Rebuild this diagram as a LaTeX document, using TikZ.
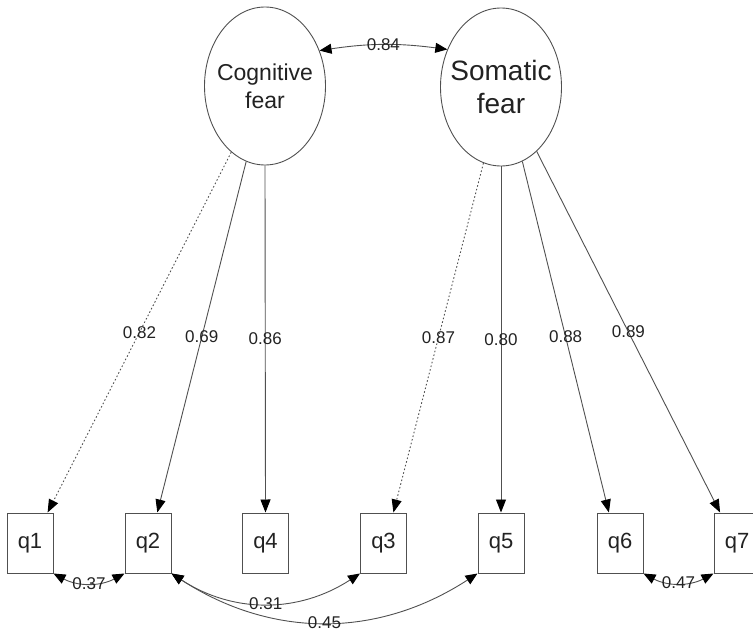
\documentclass[tikz,border=0pt]{standalone}
\usepackage{fontspec}
\setmainfont{Liberation Sans}
\usetikzlibrary{arrows.meta,shapes.geometric}
\definecolor{linegray}{HTML}{505050}
\definecolor{textgray}{HTML}{222222}
\begin{document}
\begin{tikzpicture}[x=1pt,y=1pt,
  latent/.style={draw=linegray, line width=0.9pt, ellipse, minimum width=121pt, minimum height=158pt, inner sep=0pt},
  latenttext/.style={align=center, text=textgray, inner sep=0pt},
  obs/.style={draw=linegray, line width=1pt, minimum width=46pt, minimum height=60pt, inner sep=0pt, text=textgray, font=\fontsize{22}{26}\selectfont},
  load/.style={draw=linegray, line width=0.9pt, -{Triangle[length=13pt,width=10pt,color=black]}},
  fixedload/.style={load, dash pattern=on 1.6pt off 2.2pt},
  cov/.style={draw=linegray, line width=0.9pt, {Triangle[length=12pt,width=10pt,color=black]}-{Triangle[length=12pt,width=10pt,color=black]}},
  lab/.style={text=textgray, inner sep=0pt, font=\fontsize{17}{19}\selectfont}
]
\useasboundingbox (0,0) rectangle (753,-634);

\node[latent, label={[latenttext, font=\fontsize{23}{28}\selectfont]center:Cognitive\\fear}] (cog) at (265,-86) {};
\node[latent, label={[latenttext, font=\fontsize{28}{33}\selectfont]center:Somatic\\fear}] (som) at (501,-87) {};

\node[obs] (q1) at (30,-543) {q1};
\node[obs] (q2) at (148,-543) {q2};
\node[obs] (q4) at (265.5,-543) {q4};
\node[obs] (q3) at (383.5,-543) {q3};
\node[obs] (q5) at (501,-543) {q5};
\node[obs] (q6) at (620,-543) {q6};
\node[obs] (q7) at (737,-543) {q7};

\draw[fixedload] (cog.-117) -- node[lab, pos=0.5] {0.82} (q1.60.5);
\draw[load] (cog.-104) -- node[lab, pos=0.5] {0.69} (q2.73.3);
\draw[load] (cog.-90) -- node[lab, pos=0.5] {0.86} (q4.north);
\draw[fixedload] (som.-103.3) -- node[lab, pos=0.5] {0.87} (q3.72.4);
\draw[load] (som.-90) -- node[lab, pos=0.5] {0.80} (q5.north);
\draw[load] (som.-74.4) -- node[lab, pos=0.5] {0.88} (q6.110);
\draw[load] (som.-61.4) -- node[lab, pos=0.5] {0.89} (q7.119.5);

\draw[cov] (cog.33.7) to[bend left=8] node[lab, midway] {0.84} (som.145);
\draw[cov] (q1.south east) to[bend right=28] node[lab, midway] {0.37} (q2.south west);
\draw[cov] (q2.south east) to[bend right=33] node[lab, midway] {0.31} (q3.south west);
\draw[cov] (q2.south east) to[bend right=33] node[lab, midway] {0.45} (q5.south west);
\draw[cov] (q6.south east) to[bend right=28] node[lab, midway] {0.47} (q7.south west);
\end{tikzpicture}
\end{document}
